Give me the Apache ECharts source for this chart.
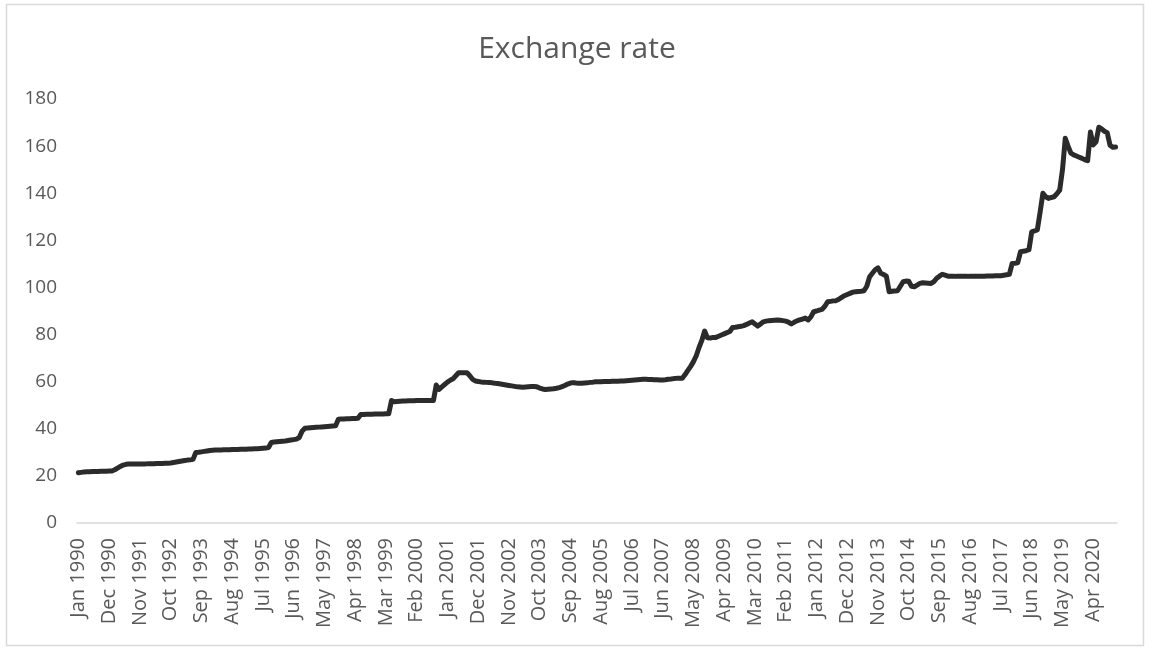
<!DOCTYPE html>
<html>
<head>
<meta charset="utf-8">
<title>Exchange rate</title>
<script src="https://cdn.jsdelivr.net/npm/echarts@6/dist/echarts.min.js"></script>
<style>
  html, body { margin: 0; padding: 0; background: #fff; }
  #chart { width: 1154px; height: 655px; }
</style>
</head>
<body>
<div id="chart"></div>
<script>
// monthly values, Jan..Dec of each year
const years = [1990, 1991, 1992, 1993, 1994, 1995, 1996, 1997, 1998, 1999, 2000,
  2001, 2002, 2003, 2004, 2005, 2006, 2007, 2008, 2009, 2010,
  2011, 2012, 2013, 2014, 2015, 2016, 2017, 2018, 2019, 2020];
const monthNames = ["Jan", "Feb", "Mar", "Apr", "May", "Jun", "Jul", "Aug", "Sep", "Oct", "Nov", "Dec"];

const y1990 = [21.3, 21.5, 21.7, 21.8, 21.8, 21.9, 21.9, 21.9, 22.0, 22.0, 22.0, 22.1];
const y1991 = [22.1, 22.6, 23.3, 24.0, 24.6, 24.9, 25.0, 25.0, 25.0, 25.1, 25.1, 25.1];
const y1992 = [25.1, 25.2, 25.2, 25.2, 25.3, 25.3, 25.3, 25.4, 25.4, 25.5, 25.7, 25.9];
const y1993 = [26.1, 26.3, 26.5, 26.7, 26.8, 27.0, 29.9, 30.0, 30.2, 30.4, 30.6, 30.8];
const y1994 = [30.9, 31.0, 31.0, 31.0, 31.1, 31.1, 31.1, 31.2, 31.2, 31.2, 31.3, 31.3];
const y1995 = [31.3, 31.4, 31.4, 31.5, 31.5, 31.6, 31.7, 31.8, 32.0, 34.2, 34.4, 34.5];
const y1996 = [34.6, 34.7, 34.8, 35.0, 35.2, 35.4, 35.6, 36.3, 39.0, 40.2, 40.3, 40.4];
const y1997 = [40.5, 40.6, 40.7, 40.8, 40.9, 41.0, 41.1, 41.2, 41.3, 44.1, 44.2, 44.2];
const y1998 = [44.3, 44.3, 44.4, 44.4, 44.5, 46.1, 46.1, 46.2, 46.2, 46.2, 46.3, 46.3];
const y1999 = [46.3, 46.3, 46.4, 46.4, 52.0, 51.5, 51.6, 51.7, 51.8, 51.8, 51.9, 51.9];
const y2000 = [51.9, 52.0, 52.0, 52.0, 52.0, 52.0, 52.0, 52.0, 58.6, 56.7, 57.8, 58.8];
const y2001 = [59.8, 60.6, 61.2, 62.5, 63.8, 63.8, 63.8, 63.8, 62.5, 61.0, 60.3, 60.1];
const y2002 = [59.9, 59.8, 59.7, 59.6, 59.5, 59.3, 59.2, 59.0, 58.8, 58.6, 58.4, 58.2];
const y2003 = [58.0, 57.8, 57.7, 57.6, 57.7, 57.8, 57.9, 57.9, 57.8, 57.3, 56.9, 56.7];
const y2004 = [56.8, 56.9, 57.0, 57.2, 57.5, 57.9, 58.4, 59.0, 59.4, 59.6, 59.4, 59.3];
const y2005 = [59.3, 59.4, 59.5, 59.7, 59.8, 60.0, 60.0, 60.0, 60.1, 60.1, 60.1, 60.2];
const y2006 = [60.2, 60.2, 60.3, 60.3, 60.4, 60.5, 60.6, 60.7, 60.8, 60.9, 61.0, 61.0];
const y2007 = [60.9, 60.9, 60.8, 60.8, 60.7, 60.7, 60.8, 61.0, 61.1, 61.3, 61.4, 61.4];
const y2008 = [61.4, 63.0, 64.8, 66.5, 68.5, 71.0, 74.5, 77.5, 81.5, 78.6, 78.5, 78.8];
const y2009 = [78.8, 79.3, 79.8, 80.3, 80.8, 81.3, 83.0, 83.1, 83.3, 83.5, 83.8, 84.3];
const y2010 = [84.9, 85.4, 84.5, 83.6, 84.5, 85.4, 85.7, 85.9, 86.0, 86.1, 86.2, 86.1];
const y2011 = [85.9, 85.7, 85.3, 84.5, 85.2, 85.8, 86.2, 86.6, 87.0, 86.2, 87.5, 89.7];
const y2012 = [90.0, 90.4, 90.7, 92.0, 93.9, 94.1, 94.3, 94.4, 95.0, 95.8, 96.5, 97.0];
const y2013 = [97.5, 98.0, 98.2, 98.3, 98.4, 98.6, 100.5, 104.5, 106.0, 107.5, 108.3, 106.0];
const y2014 = [105.5, 104.8, 98.2, 98.4, 98.5, 98.6, 100.5, 102.4, 102.7, 102.6, 100.5, 100.3];
const y2015 = [101.0, 101.7, 102.0, 101.9, 101.8, 101.7, 102.5, 103.9, 104.8, 105.6, 105.2, 104.8];
const y2016 = [104.8, 104.8, 104.7, 104.7, 104.7, 104.7, 104.7, 104.8, 104.8, 104.8, 104.8, 104.8];
const y2017 = [104.8, 104.9, 104.9, 104.9, 105.0, 105.0, 105.0, 105.2, 105.4, 105.6, 110.2, 110.3];
const y2018 = [110.5, 115.2, 115.4, 115.6, 116.0, 123.6, 124.0, 124.4, 132.0, 140.0, 138.5, 137.8];
const y2019 = [138.2, 138.5, 139.8, 141.3, 150.0, 163.3, 160.0, 157.0, 156.3, 155.8, 155.3, 154.8];
const y2020 = [154.2, 153.8, 166.0, 160.5, 161.8, 168.0, 167.3, 166.3, 165.7, 160.4, 159.5, 159.6];

const yearly = [y1990, y1991, y1992, y1993, y1994, y1995, y1996, y1997, y1998, y1999, y2000,
  y2001, y2002, y2003, y2004, y2005, y2006, y2007, y2008, y2009, y2010,
  y2011, y2012, y2013, y2014, y2015, y2016, y2017, y2018, y2019, y2020];

const categories = [];
const values = [];
years.forEach((yr, i) => {
  monthNames.forEach((m, j) => {
    categories.push(m + " " + yr);
    values.push(yearly[i][j]);
  });
});

const textColor = "#595959";
const fontFamily = "'Open Sans', 'Noto Sans', sans-serif";

const chart = echarts.init(document.getElementById("chart"));
chart.setOption({
  animation: false,
  title: {
    text: "Exchange rate",
    left: "center",
    top: 29,
    textStyle: {
      color: textColor,
      fontSize: 30,
      fontWeight: "normal",
      fontFamily: fontFamily
    }
  },
  graphic: [
    {
      type: "rect",
      shape: { x: 6.5, y: 4.5, width: 1137, height: 641 },
      style: { fill: "none", stroke: "#d9d9d9", lineWidth: 1.5 },
      silent: true
    }
  ],
  grid: {
    left: 77,
    right: 37,
    top: 99,
    bottom: 132
  },
  xAxis: {
    type: "category",
    boundaryGap: true,
    data: categories,
    axisLine: { lineStyle: { color: "#d9d9d9", width: 1.5 } },
    axisTick: { show: false },
    axisLabel: {
      interval: 10,
      rotate: 90,
      margin: 15,
      color: textColor,
      fontSize: 20,
      fontFamily: fontFamily
    },
    splitLine: { show: false }
  },
  yAxis: {
    type: "value",
    min: 0,
    max: 180,
    interval: 20,
    axisLine: { show: false },
    axisTick: { show: false },
    splitLine: { show: false },
    axisLabel: {
      margin: 20,
      color: textColor,
      fontSize: 19,
      fontFamily: fontFamily
    }
  },
  series: [
    {
      name: "Exchange rate",
      type: "line",
      data: values,
      symbol: "none",
      lineStyle: { color: "#2b2b2b", width: 5, join: "round", cap: "round" }
    }
  ]
});
</script>
</body>
</html>
